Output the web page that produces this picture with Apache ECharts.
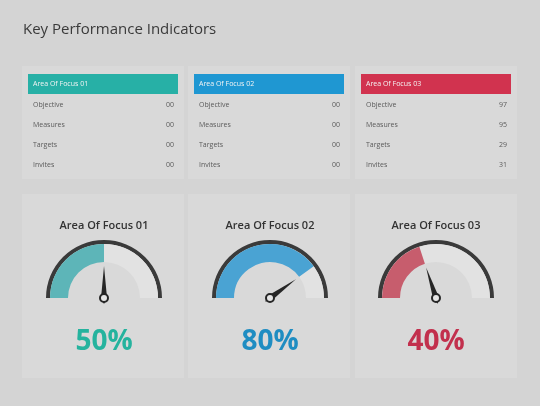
<!DOCTYPE html>
<html>
<head>
<meta charset="utf-8">
<script src="https://cdn.jsdelivr.net/npm/echarts@6/dist/echarts.min.js"></script>
<style>
  html, body { margin: 0; padding: 0; background: #d4d4d4; }
  #chart { width: 540px; height: 406px; }
</style>
</head>
<body>
<div id="chart"></div>
<script>
// data
const areaNames = ['Area Of Focus 01', 'Area Of Focus 02', 'Area Of Focus 03']
const rowLabels = ['Objective', 'Measures', 'Targets', 'Invites']
const tableValues = [
  ['00', '00', '00', '00'],
  ['00', '00', '00', '00'],
  ['97', '95', '29', '31']
]
const gaugeValues = [50, 80, 40]
const headerColors = ['#27b0a6', '#1f97d2', '#d1334f']
const bandColors = ['#5db5b8', '#4aa3d3', '#c75d6d']
const valueColors = ['#25b39e', '#1f8dc2', '#c2304d']

const cardX = [22, 188, 355]
const cardW = 162
const gaugeCx = [104, 270, 436]
const gaugeCy = 298

const chart = echarts.init(document.getElementById('chart'))

const graphic = [{
  type: 'text', left: 23, top: 22,
  style: { text: 'Key Performance Indicators', fill: '#3a3a3a', font: '15px "Open Sans"' }
}]

cardX.forEach((x, i) => {
  // table card
  graphic.push({ type: 'rect', shape: { x: x, y: 66, width: cardW, height: 113 }, style: { fill: '#d9d9d9' }, z: 0 })
  graphic.push({ type: 'rect', shape: { x: x + 6, y: 74, width: cardW - 12, height: 20 }, style: { fill: headerColors[i] }, z: 1 })
  graphic.push({
    type: 'text', x: x + 11, y: 84, z: 2,
    style: { text: areaNames[i], fill: '#f4f4f4', font: '7px "Open Sans"', verticalAlign: 'middle' }
  })
  rowLabels.forEach((lab, r) => {
    const y = 105 + r * 20
    graphic.push({
      type: 'text', x: x + 11, y: y, z: 2,
      style: { text: lab, fill: '#5a5a5a', font: '7px "Open Sans"', verticalAlign: 'middle' }
    })
    graphic.push({
      type: 'text', x: x + cardW - 10, y: y, z: 2,
      style: { text: tableValues[i][r], fill: '#5a5a5a', font: '7px "Open Sans"', verticalAlign: 'middle', align: 'right' }
    })
  })
  // gauge card
  graphic.push({ type: 'rect', shape: { x: x, y: 194, width: cardW, height: 184 }, style: { fill: '#d9d9d9' }, z: 0 })
})

const series = []
gaugeValues.forEach((v, i) => {
  // outer dark rim
  series.push({
    type: 'gauge', center: [gaugeCx[i], gaugeCy], radius: 58,
    startAngle: 180, endAngle: 0, min: 0, max: 100,
    axisLine: { lineStyle: { width: 4, color: [[1, '#3a3a3a']] } },
    axisTick: { show: false }, splitLine: { show: false }, axisLabel: { show: false },
    pointer: { show: false }, detail: { show: false }, title: { show: false },
    data: [{ value: 0 }], z: 2
  })
  // value band with pointer
  series.push({
    type: 'gauge', center: [gaugeCx[i], gaugeCy], radius: 54,
    startAngle: 180, endAngle: 0, min: 0, max: 100,
    axisLine: { lineStyle: { width: 18, color: [[v / 100, bandColors[i]], [1, '#e2e2e2']] } },
    axisTick: { show: false }, splitLine: { show: false }, axisLabel: { show: false },
    pointer: { length: 32, width: 3, itemStyle: { color: '#262626' } },
    anchor: { show: true, showAbove: true, size: 8, itemStyle: { color: '#e6e6e6', borderColor: '#262626', borderWidth: 2 } },
    title: { offsetCenter: [0, -72], fontSize: 11, color: '#333', fontWeight: 600, fontFamily: 'Open Sans' },
    detail: {
      offsetCenter: [0, 44], formatter: '{value}%', fontSize: 28, fontWeight: 'bold',
      fontFamily: 'Open Sans', color: valueColors[i]
    },
    data: [{ value: v, name: areaNames[i] }], z: 3
  })
})

chart.setOption({
  backgroundColor: '#d4d4d4',
  animation: false,
  graphic: graphic,
  series: series
})
</script>
</body>
</html>
